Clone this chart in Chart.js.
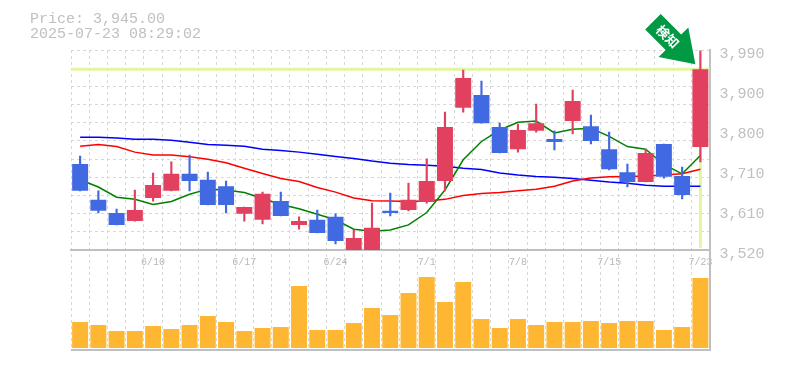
<!DOCTYPE html>
<html>
<head>
<meta charset="utf-8">
<script src="https://cdn.jsdelivr.net/npm/chart.js@4/dist/chart.umd.js"></script>
<style>
  html, body { margin: 0; padding: 0; background: #fff; }
  canvas { display: block; }
</style>
</head>
<body>
<canvas id="chart" width="785" height="370"></canvas>
<script>
const dates = ['6/4','6/5','6/6','6/9','6/10','6/11','6/12','6/13','6/16','6/17','6/18','6/19','6/20','6/23','6/24','6/25','6/26','6/27','6/30','7/1','7/2','7/3','7/4','7/7','7/8','7/9','7/10','7/11','7/14','7/15','7/16','7/17','7/18','7/22','7/23'];
const dateLabels = ['6/10','6/17','6/24','7/1','7/8','7/15','7/23'];

const open  = [3722,3638,3607,3588,3642,3659,3699,3685,3670,3605,3591,3635,3579,3591,3598,3520,3520,3612,3614,3633,3682,3854,3884,3809,3757,3800,3781,3823,3811,3757,3703,3680,3769,3694,3762];
const close = [3659,3612,3579,3614,3673,3699,3682,3626,3626,3621,3652,3600,3588,3560,3541,3548,3572,3607,3638,3682,3809,3924,3818,3748,3802,3818,3774,3870,3776,3710,3680,3748,3692,3649,3945];
const high  = [3741,3659,3616,3661,3701,3727,3743,3703,3682,3621,3656,3656,3598,3614,3605,3567,3630,3654,3677,3734,3844,3943,3917,3818,3816,3863,3800,3896,3837,3797,3722,3757,3769,3715,3988];
const low   = [3659,3607,3579,3588,3635,3659,3659,3626,3607,3588,3581,3600,3569,3560,3534,3520,3520,3600,3612,3630,3659,3844,3818,3748,3750,3797,3755,3793,3769,3708,3668,3680,3689,3640,3727];

const maShort = [3685,3668,3644,3639,3627,3634,3651,3663,3661,3655,3641,3627,3617,3604,3591,3569,3564,3567,3579,3608,3661,3732,3775,3802,3820,3823,3795,3804,3806,3787,3763,3757,3721,3699,3742];
const maMid   = [3764,3768,3763,3750,3743,3743,3739,3733,3725,3712,3700,3688,3681,3667,3656,3642,3636,3635,3634,3635,3639,3648,3653,3655,3659,3663,3670,3682,3689,3692,3693,3694,3696,3699,3710];
const maLong  = [3785,3785,3783,3780,3780,3778,3773,3768,3766,3764,3757,3754,3750,3745,3740,3735,3729,3724,3721,3719,3717,3712,3709,3701,3696,3693,3691,3688,3684,3680,3677,3672,3670,3670,3670];

const volume = [26000,23000,17000,17000,22000,19000,23000,32000,26000,17000,20000,21000,62000,18000,18000,25000,40000,33000,55000,71000,46000,66000,29000,20000,29000,23000,26000,26000,27000,25000,27000,27000,18000,21000,70000];

const priceLabels = [3520,3614,3708,3802,3896,3990];
const priceGrid = [3520,3562.73,3605.45,3648.18,3690.91,3733.64,3776.36,3819.09,3861.82,3904.55,3947.27,3990];
const lastPrice = 3945;
const lastPriceFloor = 3525;
const titleLines = ['Price: 3,945.00', '2025-07-23 08:29:02'];
const arrowText = '検知';

const UP = '#e1415f';
const DOWN = '#4169e1';
const candleColors = open.map((o, i) => close[i] >= o ? UP : DOWN);
const GRID = '#d8d8d8';
const AXIS = '#c0c0c0';
const TEXT = '#c0c0c0';
const MONO = '"Liberation Mono", monospace';

// last price cross, behind the candles
const priceCross = {
  id: 'priceCross',
  beforeDatasetsDraw(chart) {
    const { ctx, chartArea, scales } = chart;
    const y = scales.yPrice.getPixelForValue(lastPrice);
    const x = scales.x.getPixelForValue(dates.length - 1);
    ctx.save();
    ctx.strokeStyle = '#e2f5a0';
    ctx.lineWidth = 3;
    ctx.beginPath();
    ctx.moveTo(chartArea.left, y);
    ctx.lineTo(chartArea.right, y);
    ctx.moveTo(x, y);
    ctx.lineTo(x, scales.yPrice.getPixelForValue(lastPriceFloor));
    ctx.stroke();
    ctx.restore();
  }
};

// header text, bottom line and the green arrow
const decorations = {
  id: 'decorations',
  afterDraw(chart) {
    const { ctx, chartArea, scales } = chart;
    ctx.save();
    ctx.fillStyle = TEXT;
    ctx.font = '15px ' + MONO;
    ctx.textBaseline = 'alphabetic';
    ctx.fillText(titleLines[0], 30, 23);
    ctx.fillText(titleLines[1], 30, 38);

    ctx.strokeStyle = AXIS;
    ctx.lineWidth = 2;
    ctx.beginPath();
    ctx.moveTo(chartArea.left, chartArea.bottom);
    ctx.lineTo(chartArea.right + 1, chartArea.bottom);
    ctx.stroke();

    const tipX = scales.x.getPixelForValue(dates.length - 1) - 5;
    const tipY = scales.yPrice.getPixelForValue(lastPrice) - 5;
    ctx.translate(tipX, tipY);
    ctx.rotate(Math.PI / 4);
    ctx.fillStyle = '#009944';
    ctx.beginPath();
    ctx.moveTo(0, 0);
    ctx.lineTo(-31, -21);
    ctx.lineTo(-31, -11);
    ctx.lineTo(-60, -11);
    ctx.lineTo(-60, 11);
    ctx.lineTo(-31, 11);
    ctx.lineTo(-31, 21);
    ctx.closePath();
    ctx.fill();
    ctx.fillStyle = '#fff';
    ctx.font = 'bold 13px "Noto Sans CJK JP"';
    ctx.textAlign = 'center';
    ctx.textBaseline = 'middle';
    ctx.fillText(arrowText, -39, 0);
    ctx.restore();
  }
};

new Chart(document.getElementById('chart'), {
  data: {
    labels: dates,
    datasets: [
      { type: 'bar', data: open.map((o, i) => [o, close[i]]), yAxisID: 'yPrice', backgroundColor: candleColors, barPercentage: 0.875, categoryPercentage: 1, grouped: false, order: 1 },
      { type: 'bar', data: low.map((l, i) => [l, high[i]]), yAxisID: 'yPrice', backgroundColor: candleColors, barThickness: 1.5, grouped: false, order: 2 },
      { type: 'line', data: maShort, yAxisID: 'yPrice', borderColor: '#008000', borderWidth: 1.5, pointRadius: 0, order: 3 },
      { type: 'line', data: maMid, yAxisID: 'yPrice', borderColor: '#ff0000', borderWidth: 1.5, pointRadius: 0, order: 3 },
      { type: 'line', data: maLong, yAxisID: 'yPrice', borderColor: '#0000ff', borderWidth: 1.5, pointRadius: 0, order: 3 },
      { type: 'bar', data: volume, yAxisID: 'yVol', backgroundColor: '#ffb733', barPercentage: 0.875, categoryPercentage: 1, grouped: false, order: 1 }
    ]
  },
  options: {
    responsive: false,
    animation: false,
    layout: { padding: { left: 71, top: 50, right: 0, bottom: 20 } },
    plugins: { legend: { display: false }, tooltip: { enabled: false } },
    scales: {
      x: {
        type: 'category',
        position: { yPrice: 3520 },
        grid: { color: GRID, drawTicks: false },
        border: { color: AXIS, width: 2, dash: [3, 3] },
        ticks: {
          autoSkip: false, maxRotation: 0, padding: 6, color: '#b8b8b8',
          font: { family: MONO, size: 10 },
          callback(value) {
            const label = this.getLabelForValue(value);
            return dateLabels.includes(label) ? label : '';
          }
        }
      },
      yPrice: {
        type: 'linear', position: 'right', stack: 'panels', stackWeight: 2,
        min: 3520, max: 3990,
        afterFit(scale) { scale.width = 75.5; },
        afterBuildTicks(scale) {
          const all = [...new Set([...priceGrid, ...priceLabels])].sort((a, b) => a - b);
          scale.ticks = all.map(value => ({ value }));
        },
        grid: {
          drawTicks: false,
          color: ctx => priceGrid.includes(ctx.tick.value) ? GRID : 'transparent'
        },
        border: { color: AXIS, width: 2, dash: [3, 3] },
        ticks: {
          autoSkip: false, padding: 10, labelOffset: 4, color: TEXT,
          font: { family: MONO, size: 15 },
          callback(value) {
            if (!priceLabels.includes(value)) return '';
            return (Math.round(value / 10) * 10).toLocaleString('en-US');
          }
        }
      },
      yVol: {
        type: 'linear', position: 'right', stack: 'panels', stackWeight: 1,
        min: -2000, max: 98000,
        afterFit(scale) { scale.width = 75.5; },
        grid: { display: false },
        border: { color: AXIS, width: 2 },
        ticks: { display: false }
      }
    }
  },
  plugins: [priceCross, decorations]
});
</script>
</body>
</html>
